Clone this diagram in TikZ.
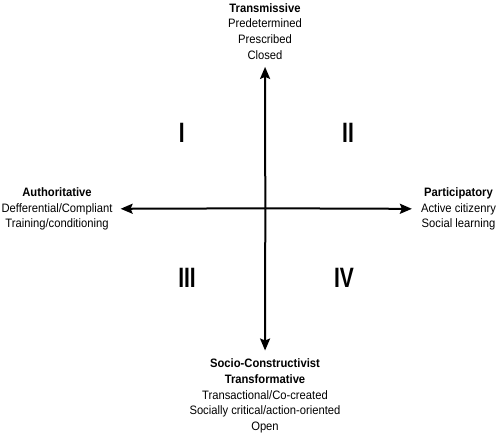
\documentclass[tikz,border=0pt]{standalone}
\usepackage{fontspec}
\setmainfont{Liberation Sans}[FakeStretch=0.92]
\newfontfamily\numfont[FakeStretch=0.75]{Liberation Sans Bold}
\usetikzlibrary{arrows.meta}
\begin{document}
\begin{tikzpicture}[x=1pt,y=-1pt,
  lbl/.style={align=center,inner sep=0pt,font=\fontsize{12.2}{15.8}\selectfont},
  quad/.style={inner sep=0pt,font=\numfont\fontsize{28}{28}\selectfont},
  axis/.style={line width=2pt,-{Stealth[length=12pt,width=10pt,inset=2pt]}}]
\useasboundingbox[fill=white] (0,0) rectangle (500,436);
\coordinate (c) at (265.3,208.3);
\node[lbl] (top) at (265,31.5) {\textbf{Transmissive}\\Predetermined\\Prescribed\\Closed};
\node[lbl] (bot) at (265,396) {\textbf{Socio-Constructivist}\\\textbf{Transformative}\\Transactional/Co-created\\Socially critical/action-oriented\\Open};
\node[lbl] (left) at (57,209) {\textbf{Authoritative}\\Defferential/Compliant\\Training/conditioning};
\node[lbl] (right) at (458.5,209) {\textbf{Participatory}\\Active citizenry\\Social learning};
\node[quad] (q1) at (181.7,133) {I};
\node[quad] (q2) at (348,133) {II};
\node[quad] (q3) at (187,278) {III};
\node[quad] (q4) at (344,278) {IV};
\draw[axis,shorten >=7pt] (c) -- (top);
\draw[axis,shorten >=8pt] (c) -- (bot);
\draw[axis,shorten >=8pt] (c) -- (left);
\draw[axis,shorten >=9pt] (c) -- (right);
\end{tikzpicture}
\end{document}
